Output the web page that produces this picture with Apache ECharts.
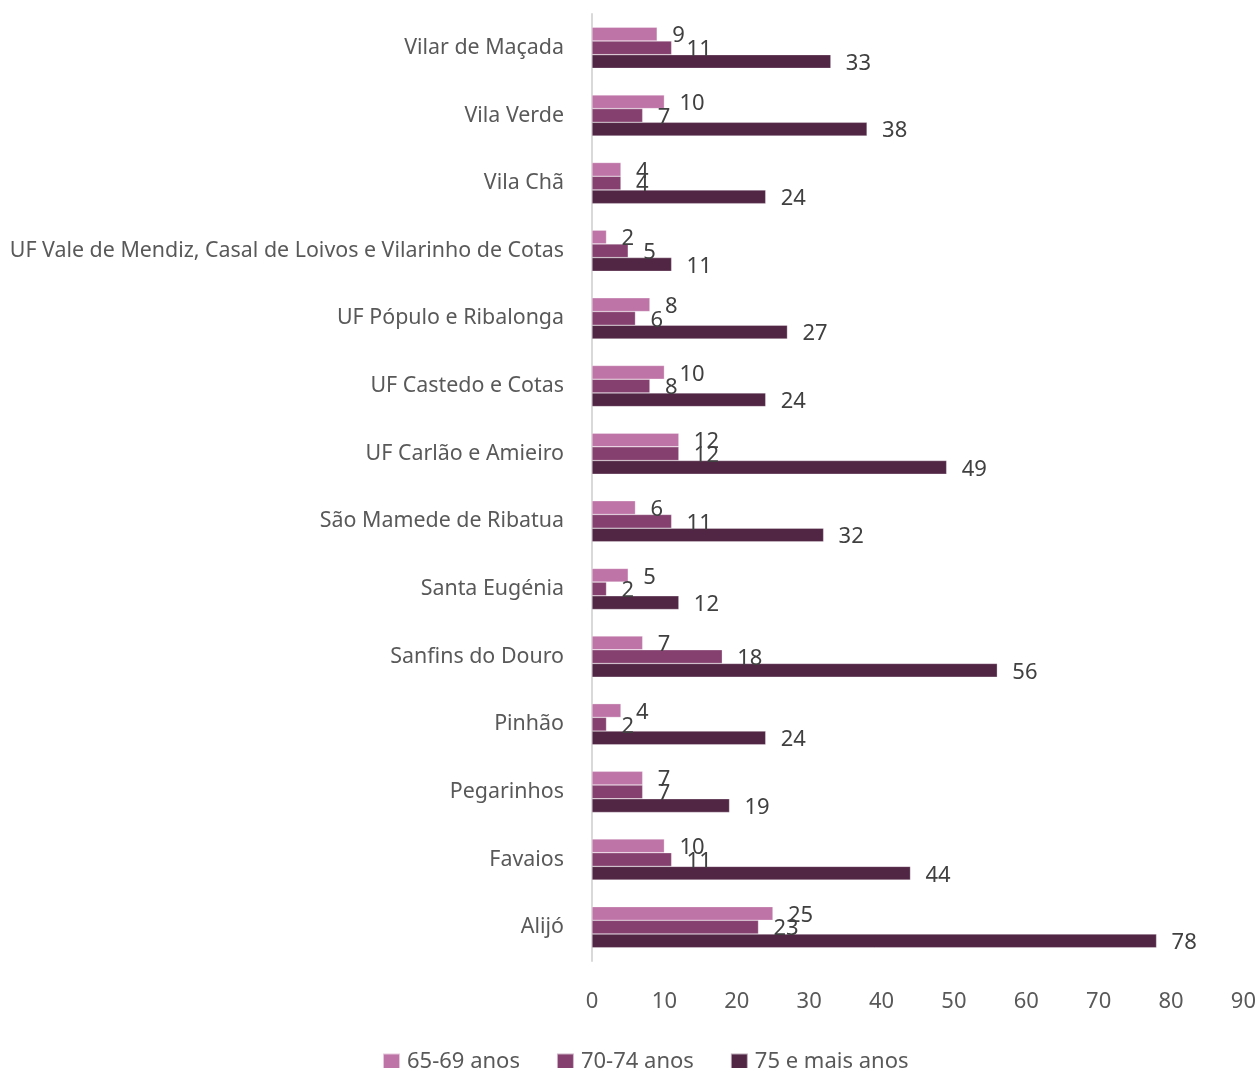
<!DOCTYPE html>
<html><head><meta charset="utf-8">
<script src="https://cdn.jsdelivr.net/npm/echarts@6/dist/echarts.min.js"></script>
<style>html,body{margin:0;padding:0;background:#fff}#c{width:1259px;height:1068px}</style>
</head><body><div id="c"></div>
<script>
const categories = ["Vilar de Maçada","Vila Verde","Vila Chã","UF Vale de Mendiz, Casal de Loivos e Vilarinho de Cotas","UF Pópulo e Ribalonga","UF Castedo e Cotas","UF Carlão e Amieiro","São Mamede de Ribatua","Santa Eugénia","Sanfins do Douro","Pinhão","Pegarinhos","Favaios","Alijó"];
const s6569 = [9,10,4,2,8,10,12,6,5,7,4,7,10,25];
const s7074 = [11,7,4,5,6,8,12,11,2,18,2,7,11,23];
const s75 = [33,38,24,11,27,24,49,32,12,56,24,19,44,78];
const seriesNames = ["65-69 anos","70-74 anos","75 e mais anos"];
const xTicks = {min:0,max:90,interval:10};

const font = '"Noto Sans", sans-serif';
const colors = ['#be74a7','#85406f','#512645'];
const chart = echarts.init(document.getElementById('c'));
const mk = (name, data, color) => ({
  name, type:'bar', data, barWidth:13.7, barGap:'0%', barCategoryGap:'39%',
  itemStyle:{color, borderColor:'rgba(255,255,255,0.6)', borderWidth:0.5},
  label:{show:true, position:'right', distance:15, offset:[0,2], color:'#404040', fontSize:22, fontFamily:font}
});
chart.setOption({
  animation:false,
  textStyle:{fontFamily:font},
  grid:{left:592,right:15,top:14,bottom:107,containLabel:false},
  xAxis:{type:'value',min:xTicks.min,max:xTicks.max,interval:xTicks.interval,
    splitLine:{show:false},axisLine:{show:false},axisTick:{show:false},
    axisLabel:{color:'#595959',fontSize:22,fontFamily:font,margin:30}},
  yAxis:{type:'category',data:categories,inverse:true,
    axisLine:{show:true,lineStyle:{color:'#d9d9d9',width:2}},axisTick:{show:false},
    axisLabel:{color:'#595959',fontSize:21.4,fontFamily:font,margin:28}},
  legend:{top:1046,left:377,itemWidth:17,itemHeight:17,itemGap:36,icon:'rect',
    textStyle:{color:'#595959',fontSize:22,fontFamily:font,padding:[0,0,0,2]},data:seriesNames},
  series:[mk(seriesNames[0],s6569,colors[0]),mk(seriesNames[1],s7074,colors[1]),mk(seriesNames[2],s75,colors[2])]
});
</script></body></html>
